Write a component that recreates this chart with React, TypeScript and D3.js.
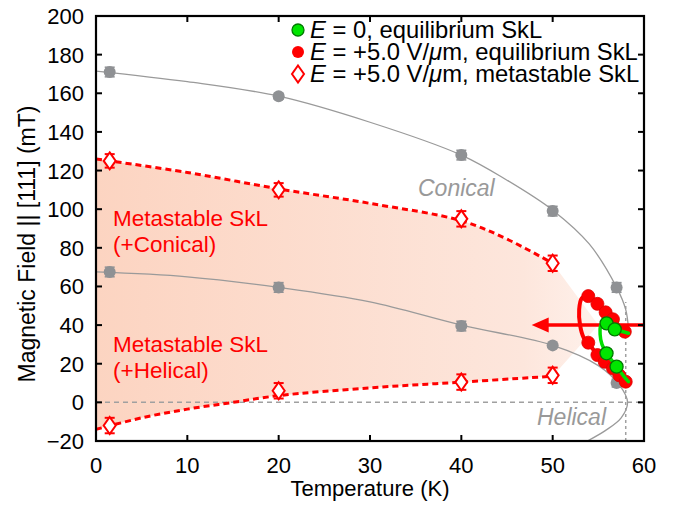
import React from 'react';
import * as d3 from 'd3';

const xTicks = [0, 10, 20, 30, 40, 50, 60];
const yTicks = [-20, 0, 20, 40, 60, 80, 100, 120, 140, 160, 180, 200];

// gray boundary markers (upper = conical, lower = helical)
const conicalT = [1.5, 20, 40, 50, 57];
const conicalH = [171, 158.5, 128, 99, 59.5];
const conicalErr = [2.5, 1.5, 2.5, 2.5, 2.5];
const helicalT = [1.5, 20, 40, 50, 57];
const helicalH = [67.5, 59.5, 39.5, 29.5, 10];
const helicalErr = [2.5, 2.5, 2.5, 1, 2];

// gray boundary lines
const conicalLineT = [0, 10, 20, 30, 40, 45, 50, 54, 57, 58, 58.3];
const conicalLineH = [171.5, 166, 158.5, 145, 128, 115, 99.5, 82, 59.5, 48, 38];
const helicalLineT = [0, 10, 20, 30, 40, 50, 55, 57.3, 58.2, 57.5, 55.8, 53.8];
const helicalLineH = [67.5, 65, 59.5, 52, 40, 29.5, 19, 9, 0, -8, -14.5, -20];

// metastable SkL boundaries (open diamonds)
const metaUpT = [1.5, 20, 40, 50];
const metaUpH = [125, 110, 95, 72];
const metaUpErr = [3.5, 3.5, 4, 4];
const metaLoT = [1.5, 20, 40, 50];
const metaLoH = [-12, 6, 10.5, 14];
const metaLoErr = [4, 4, 4, 4];
const metaUpLineT = [0, 10, 20, 30, 40, 45, 50];
const metaUpLineH = [126, 119, 110.5, 103, 94, 84.5, 72];
const metaLoLineT = [0, 5, 10, 15, 20, 30, 40, 50];
const metaLoLineH = [-14, -8, -3.5, 0, 3.5, 7.5, 10.5, 13.5];
const shadeTipT = 55;
const shadeTipH = 40;

// E = +5.0 V/um equilibrium SkL (red)
const redLoopT = [58.2, 57.9, 56.6, 55.8, 54.9, 53.9, 53.2, 52.9, 53.0, 53.4, 53.9, 54.9, 55.7, 56.6, 57.3, 58.0, 58.3];
const redLoopH = [35.5, 36.6, 43, 46.6, 51, 55, 54, 48, 40, 33.5, 30.9, 24.5, 21, 17.6, 14, 10.7, 9.5];
const redT = [53.9, 54.9, 55.8, 56.6, 57.9, 53.9, 54.9, 55.7, 56.6, 57.3, 58.0];
const redH = [55, 51, 46.6, 43, 36.6, 30.9, 24.5, 21, 17.6, 14, 10.7];

// E = 0 equilibrium SkL (green)
const greenLoopT = [58.3, 57.5, 56.8, 55.9, 55.3, 55.2, 55.4, 55.9, 57.0, 57.8, 58.3];
const greenLoopH = [35.8, 36.8, 38, 41, 40, 35, 30, 25.4, 18.5, 13.5, 10.7];
const greenT = [55.9, 56.8, 55.9, 57.0];
const greenH = [40.9, 37.8, 25.4, 18.5];

const arrowFromT = 60;
const arrowToT = 47.7;
const arrowH = 40;
const tcT = 58;
const tcTopH = 52;

const W = 674, H = 508;
const M = { left: 96, right: 644, top: 16, bottom: 441 };
const FONT = '"Liberation Sans", Arial, Helvetica, sans-serif';

export default function App() {
  const x = d3.scaleLinear().domain([0, 60]).range([M.left, M.right]);
  const y = d3.scaleLinear().domain([-20, 200]).range([M.bottom, M.top]);
  const pts = (ts: number[], hs: number[]) => ts.map((t, i) => [x(t), y(hs[i])] as [number, number]);
  const smooth = d3.line().curve(d3.curveCatmullRom.alpha(0.5));

  const upPts = pts(metaUpLineT, metaUpLineH);
  const loPts = pts(metaLoLineT, metaLoLineH);
  const upPath = smooth(upPts) as string;
  const loRev = smooth(loPts.slice().reverse()) as string;
  const shadePath = upPath + `L${x(shadeTipT)},${y(shadeTipH)}` + loRev.replace(/^M/, 'L') + 'Z';

  const gray = '#8f9194';
  const grayLine = '#9a9a9a';
  const red = '#ff0000';

  const errBar = (t: number, h: number, e: number, color: string, w: number, key: string) => (
    <g key={key} stroke={color} strokeWidth={w}>
      <line x1={x(t)} x2={x(t)} y1={y(h - e)} y2={y(h + e)} />
      <line x1={x(t) - 5} x2={x(t) + 5} y1={y(h - e)} y2={y(h - e)} />
      <line x1={x(t) - 5} x2={x(t) + 5} y1={y(h + e)} y2={y(h + e)} />
    </g>
  );
  const diamond = (cx: number, cy: number, key: string) => (
    <path key={key} d={`M${cx},${cy - 8.5}L${cx + 6},${cy}L${cx},${cy + 8.5}L${cx - 6},${cy}Z`} fill="#fff" stroke={red} strokeWidth={2} />
  );

  return (
    <svg width={W} height={H} style={{ position: 'absolute', left: 0, top: 0 }} fontFamily={FONT}>
      <defs>
        <linearGradient id="shade" gradientUnits="userSpaceOnUse" x1={x(0)} x2={x(shadeTipT)} y1={0} y2={0}>
          <stop offset="0" stopColor="#fcd4c1" />
          <stop offset="0.85" stopColor="#fde6dc" />
          <stop offset="1" stopColor="#fef1eb" />
        </linearGradient>
        <clipPath id="plot">
          <rect x={M.left} y={M.top} width={M.right - M.left} height={M.bottom - M.top} />
        </clipPath>
      </defs>
      <rect x={0} y={0} width={W} height={H} fill="#fff" />
      <g clipPath="url(#plot)">
        <path d={shadePath} fill="url(#shade)" />
        {/* zero line and Tc line */}
        <line x1={x(0)} x2={x(60)} y1={y(0)} y2={y(0)} stroke="#a0a0a0" strokeWidth={1.5} strokeDasharray="5 4" />
        <line x1={x(tcT)} x2={x(tcT)} y1={y(-20)} y2={y(tcTopH)} stroke="#a0a0a0" strokeWidth={1.5} strokeDasharray="3 3" />
        {/* gray boundaries */}
        <path d={smooth(pts(conicalLineT, conicalLineH)) as string} fill="none" stroke={grayLine} strokeWidth={1.3} />
        <path d={smooth(pts(helicalLineT, helicalLineH)) as string} fill="none" stroke={grayLine} strokeWidth={1.3} />
        {conicalT.map((t, i) => errBar(t, conicalH[i], conicalErr[i], gray, 1.5, 'ce' + i))}
        {helicalT.map((t, i) => errBar(t, helicalH[i], helicalErr[i], gray, 1.5, 'he' + i))}
        {conicalT.map((t, i) => <circle key={'c' + i} cx={x(t)} cy={y(conicalH[i])} r={6} fill={gray} />)}
        {helicalT.map((t, i) => <circle key={'h' + i} cx={x(t)} cy={y(helicalH[i])} r={6} fill={gray} />)}
        {/* metastable dashed */}
        <path d={upPath} fill="none" stroke={red} strokeWidth={3} strokeDasharray="6 4" />
        <path d={smooth(loPts) as string} fill="none" stroke={red} strokeWidth={3} strokeDasharray="6 4" />
        {metaUpT.map((t, i) => errBar(t, metaUpH[i], metaUpErr[i], red, 2, 'mue' + i))}
        {metaLoT.map((t, i) => errBar(t, metaLoH[i], metaLoErr[i], red, 2, 'mle' + i))}
        {metaUpT.map((t, i) => diamond(x(t), y(metaUpH[i]), 'mu' + i))}
        {metaLoT.map((t, i) => diamond(x(t), y(metaLoH[i]), 'ml' + i))}
        {/* red equilibrium */}
        <path d={smooth(pts(redLoopT, redLoopH)) as string} fill="none" stroke={red} strokeWidth={4} strokeLinecap="round" />
        {redT.map((t, i) => <circle key={'r' + i} cx={x(t)} cy={y(redH[i])} r={6.5} fill={red} stroke="#e00000" strokeWidth={0.8} />)}
        {/* arrow */}
        <line x1={x(arrowFromT)} x2={x(arrowToT) + 14} y1={y(arrowH)} y2={y(arrowH)} stroke={red} strokeWidth={3.5} />
        <path d={`M${x(arrowToT)},${y(arrowH)}L${x(arrowToT) + 17},${y(arrowH) - 7.5}L${x(arrowToT) + 17},${y(arrowH) + 7.5}Z`} fill={red} />
        {/* green equilibrium */}
        <path d={smooth(pts(greenLoopT, greenLoopH)) as string} fill="none" stroke="#00e000" strokeWidth={3.5} strokeLinecap="round" />
        {greenT.map((t, i) => <circle key={'g' + i} cx={x(t)} cy={y(greenH[i])} r={6.5} fill="#00e600" stroke="#007a00" strokeWidth={1.3} />)}
      </g>

      {/* region labels */}
      <g fontSize={22.5} fill={red}>
        <text x={113} y={226}>Metastable SkL</text>
        <text x={113} y={252}>(+Conical)</text>
        <text x={113} y={352}>Metastable SkL</text>
        <text x={113} y={378}>(+Helical)</text>
      </g>
      <g fontSize={23} fill="#999" fontStyle="italic">
        <text x={418} y={196}>Conical</text>
        <text x={537} y={425}>Helical</text>
      </g>

      {/* axes frame */}
      <g stroke="#000" strokeWidth={2}>
        {xTicks.map((t) => (
          <g key={'xt' + t}>
            <line x1={x(t)} x2={x(t)} y1={M.bottom} y2={M.bottom - 6} />
            <line x1={x(t)} x2={x(t)} y1={M.top} y2={M.top + 6} />
          </g>
        ))}
        {yTicks.map((v) => (
          <g key={'yt' + v}>
            <line x1={M.left} x2={M.left + 6} y1={y(v)} y2={y(v)} />
            <line x1={M.right} x2={M.right - 6} y1={y(v)} y2={y(v)} />
          </g>
        ))}
        <rect x={M.left} y={M.top} width={M.right - M.left} height={M.bottom - M.top} fill="none" strokeWidth={2.2} />
      </g>
      <g fontSize={22} fill="#000">
        {xTicks.map((t) => (
          <text key={'xl' + t} x={x(t)} y={473} textAnchor="middle">{t}</text>
        ))}
        {yTicks.map((v) => (
          <text key={'yl' + v} x={84} y={y(v) + 8} textAnchor="end">{v < 0 ? '\u2212' + Math.abs(v) : v}</text>
        ))}
        <text x={x(30)} y={496} textAnchor="middle">Temperature (K)</text>
        <text fontSize={23} transform={`translate(35,${244}) rotate(-90)`} textAnchor="middle">Magnetic Field || [111] (mT)</text>
      </g>

      {/* legend */}
      <g fontSize={23.8} fill="#000">
        <circle cx={298} cy={30} r={6} fill="#00e600" stroke="#007a00" strokeWidth={1.3} />
        <circle cx={298} cy={52} r={6} fill={red} />
        {diamond(298, 74, 'legd')}
        <text x={310} y={38}><tspan fontStyle="italic">E</tspan> = 0, equilibrium SkL</text>
        <text x={310} y={60}><tspan fontStyle="italic">E</tspan> = +5.0 V/<tspan fontStyle="italic">μ</tspan>m, equilibrium SkL</text>
        <text x={310} y={82}><tspan fontStyle="italic">E</tspan> = +5.0 V/<tspan fontStyle="italic">μ</tspan>m, metastable SkL</text>
      </g>
    </svg>
  );
}
